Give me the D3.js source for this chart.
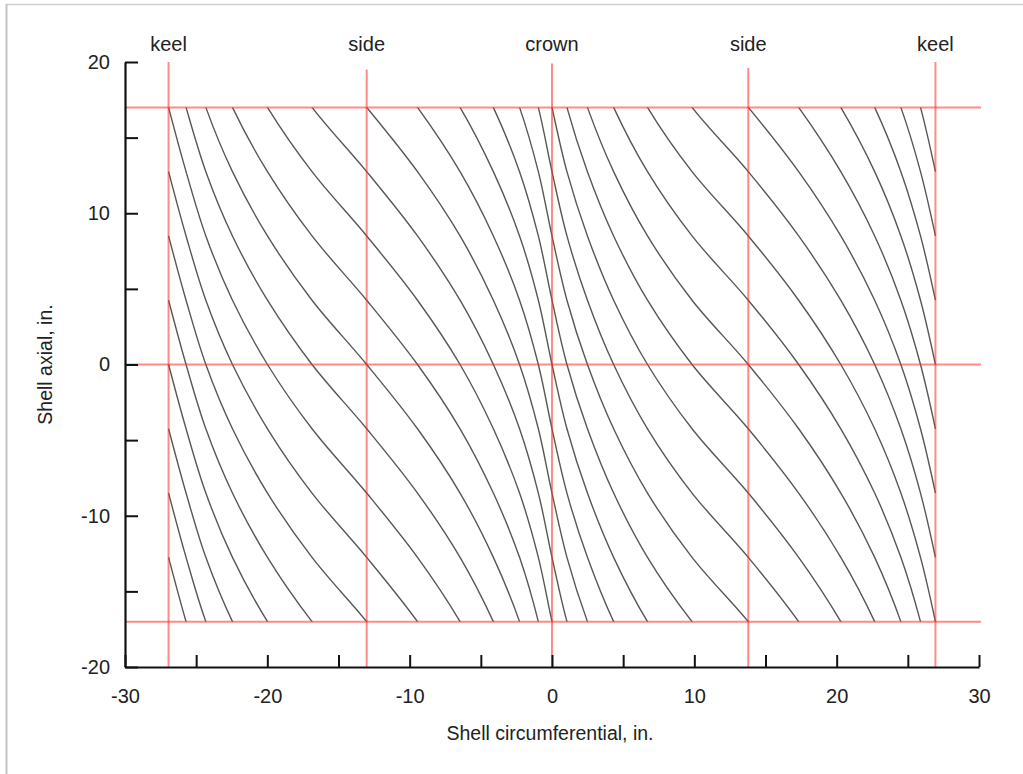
<!DOCTYPE html>
<html>
<head>
<meta charset="utf-8">
<script src="https://cdn.jsdelivr.net/npm/d3@7"></script>
<style>
  html, body { margin: 0; padding: 0; background: #fff; }
  svg { display: block; }
  text { font-family: "Liberation Sans", Arial, Helvetica, sans-serif; fill: #222; }
</style>
</head>
<body>
<svg id="chart" width="1023" height="774"></svg>
<script>
// ---- data ----
// circumferential positions (in.) where one helix line crosses successive axial levels
const knotCirc = [-26.94, -25.71, -24.32, -22.45, -19.99, -16.86, -13.02, -9.45, -6.46, -4.12, -2.28, -0.96,
                  0, 1.05, 2.49, 4.33, 6.71, 9.84, 13.79, 17.33, 20.29, 22.67, 24.51, 25.89, 26.94];
// axial position (in.) of that base helix line at each knot
const knotAxial = [0, -4.25, -8.5, -12.75, -17, -21.25, -25.5, -29.75, -34, -38.25, -42.5, -46.75,
                   -51, -55.25, -59.5, -63.75, -68, -72.25, -76.5, -80.75, -85, -89.25, -93.5, -97.75, -102];
// axial offsets of each drawn helix line
const lineOffsets = [-12.75, -8.5, -4.25, 0, 4.25, 8.5, 12.75, 17, 21.25, 25.5, 29.75, 34, 38.25, 42.5,
                     46.75, 51, 55.25, 59.5, 63.75, 68, 72.25, 76.5, 80.75, 85, 89.25, 93.5, 97.75, 102,
                     106.25, 110.5, 114.75];
// reference markers
const markerNames = ["keel", "side", "crown", "side", "keel"];
const markerCirc = [-26.94, -13.02, 0, 13.79, 26.94];
const markerTop = [20, 19.5, 19.9, 19.6, 20];
const axialLevels = [17, 0, -17];
const panelAxial = [-17, 17];
// axes
const xDomain = [-30, 30];
const yDomain = [-20, 20];
const xTicks = [-30, -25, -20, -15, -10, -5, 0, 5, 10, 15, 20, 25, 30];
const yTicks = [-20, -15, -10, -5, 0, 5, 10, 15, 20];
const xTitle = "Shell circumferential, in.";
const yTitle = "Shell axial, in.";

// ---- drawing ----
const svg = d3.select("#chart");
const x = d3.scaleLinear().domain(xDomain).range([125, 979]);
const y = d3.scaleLinear().domain(yDomain).range([667, 62]);

// outer frame (top & left edges visible)
svg.append("line").attr("x1", 6).attr("x2", 1023).attr("y1", 4.5).attr("y2", 4.5)
  .attr("stroke", "#cfcfcf").attr("stroke-width", 1.5);
svg.append("line").attr("x1", 6.5).attr("x2", 6.5).attr("y1", 4).attr("y2", 774)
  .attr("stroke", "#c4c4c4").attr("stroke-width", 2);

// clip for helix lines
const defs = svg.append("defs");
defs.append("clipPath").attr("id", "panel").append("rect")
  .attr("x", x(markerCirc[0]) - 1)
  .attr("width", x(markerCirc[4]) - x(markerCirc[0]) + 2)
  .attr("y", y(panelAxial[1]))
  .attr("height", y(panelAxial[0]) - y(panelAxial[1]));

const base = knotCirc.map((c, i) => [c, knotAxial[i]]);
const line = d3.line()
  .x(d => x(d[0]))
  .y(d => y(d[1]))
  .curve(d3.curveCatmullRom.alpha(0.5));

const g = svg.append("g").attr("clip-path", "url(#panel)");
g.selectAll("path.helix")
  .data(lineOffsets)
  .join("path")
  .attr("class", "helix")
  .attr("fill", "none")
  .attr("stroke", "#3a3a3a")
  .attr("stroke-opacity", 0.85)
  .attr("stroke-width", 1.4)
  .attr("d", off => line(base.map(p => [p[0], p[1] + off])));

// red reference lines
const red = svg.append("g").attr("stroke", "#ff2a2a").attr("stroke-opacity", 0.55).attr("stroke-width", 2);
red.selectAll("line.h").data(axialLevels).join("line")
  .attr("class", "h")
  .attr("x1", x(-30)).attr("x2", x(30) + 2)
  .attr("y1", d => y(d)).attr("y2", d => y(d));
red.selectAll("line.v").data(markerCirc).join("line")
  .attr("class", "v")
  .attr("x1", d => x(d)).attr("x2", d => x(d))
  .attr("y1", (d, i) => y(markerTop[i])).attr("y2", y(-20));

// marker labels
svg.selectAll("text.marker").data(markerNames).join("text")
  .attr("class", "marker")
  .attr("x", (d, i) => x(markerCirc[i]))
  .attr("y", 51)
  .attr("text-anchor", "middle")
  .attr("font-size", 20)
  .text(d => d);

// axes
const xAxis = d3.axisBottom(x).tickValues(xTicks).tickSizeInner(-12).tickSizeOuter(0).tickPadding(22)
  .tickFormat(d => d % 10 === 0 ? d : "");
const yAxis = d3.axisLeft(y).tickValues(yTicks).tickSizeInner(-13).tickSizeOuter(0).tickPadding(15)
  .tickFormat(d => d % 10 === 0 ? d : "");

const gx = svg.append("g").attr("transform", `translate(0,${y(-20)})`).call(xAxis);
const gy = svg.append("g").attr("transform", `translate(${x(-30)},0)`).call(yAxis);
[gx, gy].forEach(a => {
  a.select(".domain").attr("stroke", "#111").attr("stroke-width", 2.2);
  a.selectAll(".tick line").attr("stroke", "#111").attr("stroke-width", 2);
  a.selectAll(".tick text").attr("font-size", 20).attr("fill", "#222")
    .attr("font-family", "Liberation Sans, Arial, sans-serif");
});

// axis titles
svg.append("text").attr("x", 550).attr("y", 740).attr("text-anchor", "middle")
  .attr("font-size", 19.5).text(xTitle);
svg.append("text").attr("transform", `translate(52,${y(0)}) rotate(-90)`)
  .attr("text-anchor", "middle").attr("font-size", 19.5).text(yTitle);
</script>
</body>
</html>
